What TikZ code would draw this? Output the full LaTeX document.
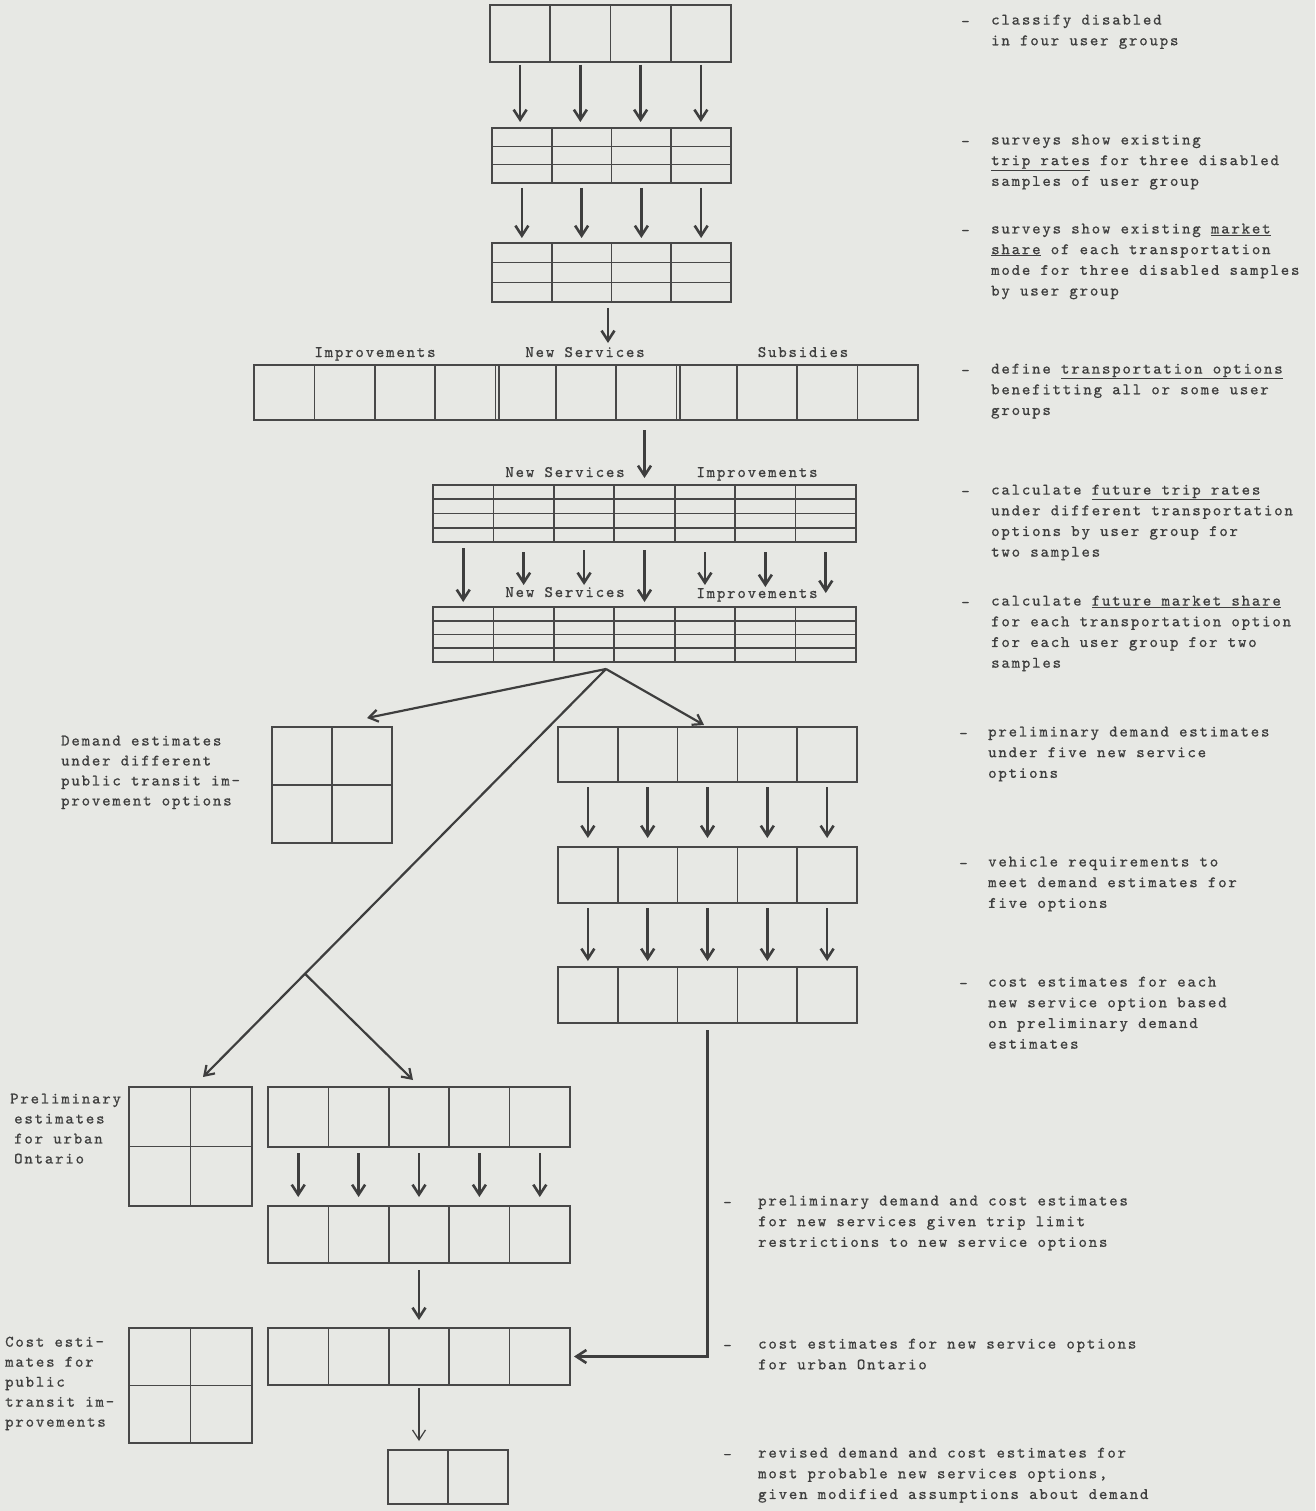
\documentclass[tikz,border=0pt]{standalone}
\usepackage{fontspec}
\usetikzlibrary{arrows.meta,calc}
\newfontfamily\tw{lmmono10-regular.otf}[LetterSpace=11.5,FakeBold=0.8]
\definecolor{bgcol}{RGB}{231,232,228}
\definecolor{boxcol}{RGB}{72,72,72}
\definecolor{arrcol}{RGB}{62,62,62}
\definecolor{textcol}{RGB}{62,62,62}
\newcommand\gridbox[7]{%
  \pgfmathsetmacro\gbW{(#4-#2)/#6}%
  \pgfmathsetmacro\gbH{(#5-#3)/#7}%
  \pgfmathsetmacro\gbT{#5-#3}%
  \pgfmathsetmacro\gbL{#4-#2}%
  \node[celln, minimum width=\gbL pt, minimum height=\gbT pt, anchor=north west] (#1) at (#2,#3) {};%
  \foreach \i in {1,...,#6}{%
    \node[celln, minimum width=\gbW pt, minimum height=\gbT pt, anchor=north west] (#1-\i) at ({#2+(\i-1)*\gbW},#3) {};}%
  \foreach \j in {1,...,#7}{\ifnum\j<#7\relax
    \draw[boxl] ($(#1.north west)+(0,\j*\gbH)$) -- ++(\gbL,0);\fi}%
}
\begin{document}
\begin{tikzpicture}[x=1pt,y=-1pt,
  boxl/.style={draw=boxcol, line width=1.6pt},
  celln/.style={boxl, rectangle, inner sep=0pt, outer sep=0pt},
  arr/.style={draw=arrcol, line width=2.6pt, -{Straight Barb[length=10pt,width=13pt]}},
  darr/.style={draw=arrcol, line width=2.2pt, -{Straight Barb[length=9pt,width=12pt]}},
  tarr/.style={draw=arrcol, line width=1.2pt, -{Straight Barb[length=10pt,width=13pt]}},
  rt/.style={font=\tw\fontsize{16}{20.7}\selectfont, text=textcol, align=left, anchor=north west, inner sep=0pt, execute at begin node={\rule{0pt}{12pt}}},
  lt/.style={font=\tw\fontsize{16}{20}\selectfont, text=textcol, align=left, anchor=north west, inner sep=0pt, execute at begin node={\rule{0pt}{12pt}}},
  dsh/.style={font=\tw\fontsize{16}{20}\selectfont, text=textcol, anchor=base west, inner sep=0pt},
  hd/.style={font=\tw\fontsize{16}{20}\selectfont, text=textcol, anchor=base, inner sep=0pt}]
\fill[bgcol] (0,0) rectangle (1315,1511);
\useasboundingbox (0,0) rectangle (1315,1511);

% boxes
\gridbox{A}{490}{5}{731}{62}{4}{1}
\gridbox{B}{492}{128}{731}{183}{4}{3}
\gridbox{C}{492}{243}{731}{302}{4}{3}
\gridbox{D}{254}{365}{918}{420}{11}{1}
\draw[boxl] ($(D-4.north east)+(3.5,0)$) -- ($(D-4.south east)+(3.5,0)$);
\draw[boxl] ($(D-7.north east)+(3.5,0)$) -- ($(D-7.south east)+(3.5,0)$);
\gridbox{E}{433}{485}{856}{542}{7}{4}
\gridbox{F}{433}{607}{856}{662}{7}{4}
\gridbox{G}{272}{727}{392}{843}{2}{2}
\gridbox{H}{558}{727}{857}{782}{5}{1}
\gridbox{I}{558}{847}{857}{903}{5}{1}
\gridbox{J}{558}{967}{857}{1023}{5}{1}
\gridbox{K}{129}{1087}{252}{1206}{2}{2}
\gridbox{M}{268}{1087}{570}{1147}{5}{1}
\gridbox{N}{268}{1206}{570}{1263}{5}{1}
\gridbox{L}{268}{1328}{570}{1385}{5}{1}
\gridbox{O}{129}{1328}{252}{1443}{2}{2}
\gridbox{P}{388}{1450}{508}{1504}{2}{1}

% arrows
\foreach \i in {1,...,4}{
  \draw[arr, shorten <=3pt, shorten >=6pt] (A-\i.south) -- (A-\i.south |- B.north);
  \draw[arr, shorten <=5pt, shorten >=5pt] (B-\i.south) -- (B-\i.south |- C.north);
}
\draw[arr, shorten <=6pt, shorten >=22pt] ([xshift=-3.5pt]C.south) -- ([xshift=-3.5pt]C.south |- D.north);
\draw[arr, shorten <=10pt, shorten >=7pt] (D.south -| E-4.north) -- (E-4.north);
\foreach \i/\s/\e in {1/6/5, 2/10/22, 3/8/22, 4/8/5, 5/10/22, 6/10/20, 7/10/14}{
  \draw[arr, shorten <=\s pt, shorten >=\e pt] (E-\i.south) -- (E-\i.south |- F.north);
}
\coordinate (apex) at ($(F.south)+(-38.5,7)$);
\coordinate (gtip) at ($(G.north)+(35,-9)$);
\coordinate (ktip) at ($(K.north)+(12.5,-10)$);
\coordinate (br) at ($(apex)!0.747!(ktip)$);
\coordinate (mtip) at ($(M-3.north)+(-6,-7)$);
\draw[darr] (apex) -- (gtip);
\draw[darr, shorten >=4pt] (apex) -- (H-3.north);
\draw[darr] (apex) -- (ktip);
\draw[darr] (br) -- (mtip);
\foreach \i in {1,...,5}{
  \draw[arr, shorten <=5pt, shorten >=9pt] (H-\i.south) -- (H-\i.south |- I.north);
  \draw[arr, shorten <=5pt, shorten >=6pt] (I-\i.south) -- (I-\i.south |- J.north);
  \draw[arr, shorten <=6pt, shorten >=9pt] (M-\i.south) -- (M-\i.south |- N.north);
}
\draw[arr, shorten >=4pt] ([yshift=-7pt]J-3.south) |- (L.east);
\draw[arr, shorten <=7pt, shorten >=8pt] (N-3.south) -- (N-3.south |- L.north);
\draw[tarr, shorten <=3pt, shorten >=9pt] (L-3.south) -- (L-3.south |- P.north);

% header labels
\node[hd] (hD1) at (375,357) {Improvements};
\node[hd] (hD2) at (585,357) {New Services};
\node[hd] (hD3) at (803,357) {Subsidies};
\node[hd] (hE1) at (565,477) {New Services};
\node[hd] (hE2) at (757,477) {Improvements};
\node[hd] (hF1) at (565,597) {New Services};
\node[hd] (hF2) at (757,598) {Improvements};

% left labels
\node[lt] (lG) at (61,735.5) {Demand estimates\\under different\\public transit im-\\provement options};
\node[lt] (lK) at (10,1093.5) {Preliminary\\\hspace*{4pt}estimates\\\hspace*{4pt}for urban\\\hspace*{4pt}Ontario};
\node[lt] (lO) at (5,1336.5) {Cost esti-\\mates for\\public\\transit im-\\provements};

% right column
\foreach \n/\y in {1/26.5, 2/146.5, 3/235.5, 4/375.5, 5/496.5, 6/607.5}{
  \node[dsh] (dash\n) at (961,\y) {-};
}
\foreach \n/\y in {7/738.5, 8/868.5, 9/988.5}{
  \node[dsh] (dash\n) at (959,\y) {-};
}
\foreach \n/\y in {10/1207.5, 11/1350.5, 12/1459.5}{
  \node[dsh] (dash\n) at (723,\y) {-};
}
\node[rt] (t1) at (991,14.5) {classify disabled\\in four user groups};
\node[rt] (t2) at (991,134.5) {surveys show existing\\\underline{trip rates} for three disabled\\samples of user group};
\node[rt] (t3) at (991,223.5) {surveys show existing \underline{market}\\\underline{share} of each transportation\\mode for three disabled samples\\by user group};
\node[rt] (t4) at (991,363.5) {define \underline{transportation options}\\benefitting all or some user\\groups};
\node[rt] (t5) at (991,484.5) {calculate \underline{future trip rates}\\under different transportation\\options by user group for\\two samples};
\node[rt] (t6) at (991,595.5) {calculate \underline{future market share}\\for each transportation option\\for each user group for two\\samples};
\node[rt] (t7) at (988,726.5) {preliminary demand estimates\\under five new service\\options};
\node[rt] (t8) at (988,856.5) {vehicle requirements to\\meet demand estimates for\\five options};
\node[rt] (t9) at (988,976.5) {cost estimates for each\\new service option based\\on preliminary demand\\estimates};
\node[rt] (t10) at (758,1195.5) {preliminary demand and cost estimates\\for new services given trip limit\\restrictions to new service options};
\node[rt] (t11) at (758,1338.5) {cost estimates for new service options\\for urban Ontario};
\node[rt] (t12) at (758,1447.5) {revised demand and cost estimates for\\most probable new services options,\\given modified assumptions about demand};
\end{tikzpicture}
\end{document}
